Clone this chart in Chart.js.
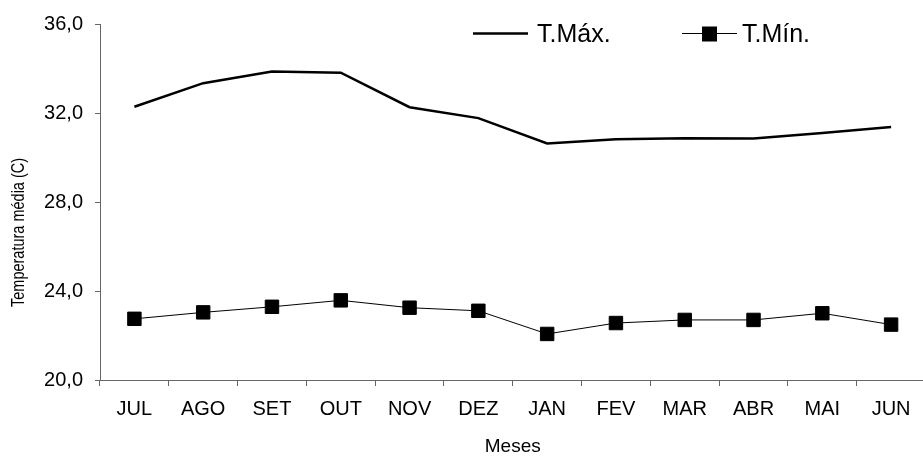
<!DOCTYPE html>
<html>
<head>
<meta charset="utf-8">
<title>Temperatura média</title>
<script src="https://cdn.jsdelivr.net/npm/chart.js@4"></script>
<style>
  html, body { margin: 0; padding: 0; background: #fff; overflow: hidden; }
</style>
</head>
<body>
<canvas id="myChart" width="936" height="456"></canvas>
<script>
var meses = ['JUL', 'AGO', 'SET', 'OUT', 'NOV', 'DEZ', 'JAN', 'FEV', 'MAR', 'ABR', 'MAI', 'JUN'];
var tMax = [32.28, 33.34, 33.86, 33.81, 32.26, 31.77, 30.63, 30.82, 30.87, 30.85, 31.1, 31.37];
var tMin = [22.75, 23.04, 23.29, 23.58, 23.25, 23.11, 22.07, 22.56, 22.7, 22.7, 23.0, 22.49];
var nomes = ['T.Máx.', 'T.Mín.'];
var tituloY = 'Temperatura média (C)';
var tituloX = 'Meses';

var fonte = "Arial, 'Liberation Sans', sans-serif";

// legenda e titulo do eixo Y desenhados a mao (linha + marcador na legenda)
var extras = {
    id: 'extras',
    afterDraw: function(chart) {
        var c = chart.ctx;
        var area = chart.chartArea;
        c.save();

        // titulo Y (um pouco esticado na horizontal, como no original)
        c.save();
        c.translate(19, area.bottom - 73);
        c.scale(1.25, 1);
        c.rotate(-Math.PI / 2);
        c.fillStyle = '#000';
        c.font = '14.5px ' + fonte;
        c.textAlign = 'left';
        c.textBaseline = 'middle';
        c.fillText(tituloY, 0, 0);
        c.restore();

        // legenda
        c.font = '25px ' + fonte;
        c.fillStyle = '#000';
        c.textAlign = 'left';
        c.textBaseline = 'alphabetic';

        var ds0 = chart.data.datasets[0];
        c.strokeStyle = ds0.borderColor;
        c.lineWidth = ds0.borderWidth;
        c.beginPath();
        c.moveTo(473, 33.5);
        c.lineTo(528, 33.5);
        c.stroke();
        c.fillText(ds0.label, 537, 41.5);

        var ds1 = chart.data.datasets[1];
        c.strokeStyle = ds1.borderColor;
        c.lineWidth = ds1.borderWidth;
        c.beginPath();
        c.moveTo(682, 33.5);
        c.lineTo(737, 33.5);
        c.stroke();
        c.fillStyle = ds1.pointBackgroundColor;
        c.fillRect(702, 26.5, 15, 15);
        c.fillStyle = '#000';
        c.fillText(ds1.label, 742, 41.5);

        c.restore();
    }
};

var ctx = document.getElementById('myChart').getContext('2d');

var lineChart = new Chart(ctx, {
    type: 'line',
    data: {
        labels: meses,
        datasets: [
            {
                label: nomes[0],
                data: tMax,
                borderColor: '#000',
                borderWidth: 2.5,
                pointRadius: 0,
                pointHoverRadius: 0,
                tension: 0,
                fill: false
            },
            {
                label: nomes[1],
                data: tMin,
                borderColor: '#000',
                borderWidth: 1,
                pointStyle: 'rect',
                pointRadius: 9.5,
                pointHoverRadius: 9.5,
                pointBackgroundColor: '#000',
                pointBorderColor: '#000',
                pointBorderWidth: 1,
                tension: 0,
                fill: false
            }
        ]
    },
    options: {
        responsive: false,
        animation: false,
        devicePixelRatio: 1,
        layout: { padding: { top: 22, right: 1, left: 0, bottom: 0 } },
        plugins: {
            legend: { display: false },
            tooltip: { enabled: false }
        },
        scales: {
            x: {
                offset: true,
                grid: {
                    offset: true,
                    drawOnChartArea: false,
                    drawTicks: true,
                    tickLength: 6,
                    color: '#666'
                },
                border: { color: '#666', width: 1 },
                ticks: {
                    color: '#000',
                    font: { family: fonte, size: 20 },
                    padding: 11,
                    maxRotation: 0,
                    autoSkip: false
                },
                title: {
                    display: true,
                    text: tituloX,
                    color: '#000',
                    font: { family: fonte, size: 19, lineHeight: 1.0 },
                    padding: { top: 0, bottom: 0 }
                },
                afterFit: function(scale) { scale.height = 76; }
            },
            y: {
                min: 20,
                max: 36,
                grid: {
                    drawOnChartArea: false,
                    drawTicks: true,
                    tickLength: 5,
                    color: '#666'
                },
                border: { color: '#666', width: 1 },
                ticks: {
                    stepSize: 4,
                    color: '#000',
                    font: { family: fonte, size: 20 },
                    padding: 12,
                    callback: function(v) { return v.toFixed(1).replace('.', ','); }
                },
                afterFit: function(scale) { scale.width = 100; }
            }
        }
    },
    plugins: [extras]
});
</script>
</body>
</html>
